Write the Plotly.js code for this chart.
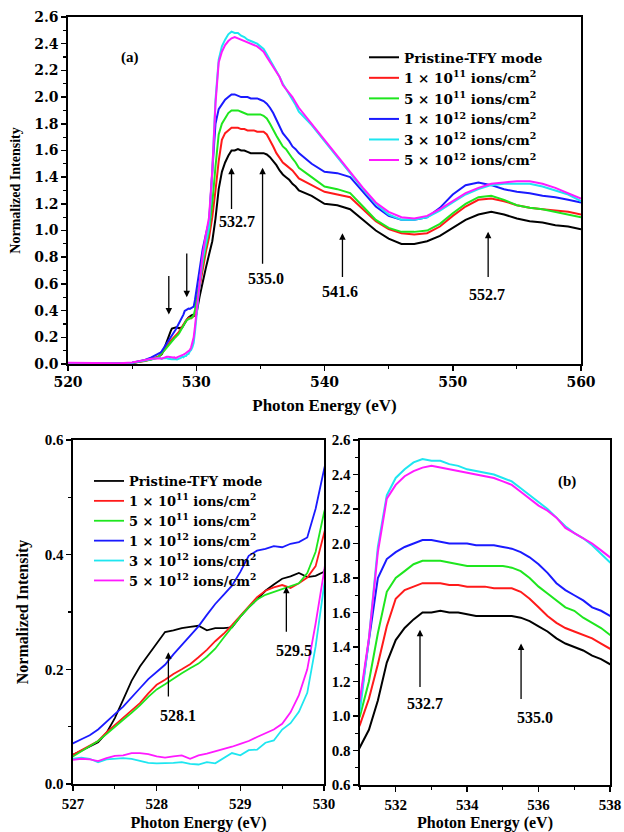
<!DOCTYPE html>
<html><head><meta charset="utf-8">
<script src="https://cdn.plot.ly/plotly-3.0.1.min.js"></script>
<style>html,body{margin:0;padding:0;background:#fff}#chart{width:624px;height:832px}</style>
</head><body><div id="chart"></div>
<script>
// Photon energy grid (eV)
const energy = [520,521,522,523,524,525,526,526.5,
  527,527.1,527.2,527.3,527.4,527.5,527.6,527.7,527.8,527.9,
  528,528.1,528.2,528.3,528.4,528.5,528.6,528.7,528.8,528.9,
  529,529.1,529.2,529.3,529.4,529.5,529.6,529.7,529.8,529.9,530,
  530.25,530.5,530.75,
  531,531.25,531.5,531.75,532,532.25,532.5,532.75,533,533.25,533.5,533.75,
  534,534.25,534.5,534.75,535,535.25,535.5,535.75,536,536.25,536.5,536.75,
  537,537.25,537.5,537.75,538,
  539,540,541,542,543,544,545,546,547,548,549,550,551,552,553,554,555,556,557,558,559,560];

const seriesNames = ['Pristine-TFY mode',
  '1 \u00d7 10<sup>11</sup> ions/cm<sup>2</sup>',
  '5 \u00d7 10<sup>11</sup> ions/cm<sup>2</sup>',
  '1 \u00d7 10<sup>12</sup> ions/cm<sup>2</sup>',
  '3 \u00d7 10<sup>12</sup> ions/cm<sup>2</sup>',
  '5 \u00d7 10<sup>12</sup> ions/cm<sup>2</sup>'];
const seriesColors = ['#000000','#ff1a1a','#1ee61e','#1a1aff','#1ee6f0','#ff1aff'];

const pristine = [0.005,0.004,0.003,0.003,0.004,0.008,0.025,0.038,
  0.051,0.058,0.065,0.073,0.089,0.115,0.147,0.180,0.205,0.225,0.245,0.265,0.268,0.272,0.274,0.276,0.268,0.272,0.272,0.273,0.292,0.308,0.322,0.337,0.348,0.358,0.362,0.368,0.361,0.363,0.370,
  0.50,0.62,0.72,
  0.82,0.92,1.09,1.31,1.44,1.51,1.56,1.60,1.60,1.61,1.60,1.60,1.59,1.58,1.58,1.58,1.58,1.58,1.57,1.55,1.52,1.49,1.45,1.42,1.40,1.38,1.35,1.33,1.30,
  1.26,1.20,1.19,1.16,1.08,1.00,0.94,0.90,0.90,0.92,0.96,1.02,1.08,1.12,1.14,1.12,1.09,1.07,1.06,1.04,1.03,1.01];
const dose1e11 = [0.005,0.004,0.003,0.003,0.004,0.008,0.022,0.035,
  0.051,0.059,0.067,0.075,0.090,0.103,0.115,0.128,0.141,0.158,0.173,0.182,0.192,0.200,0.209,0.221,0.234,0.249,0.262,0.277,0.293,0.310,0.326,0.337,0.343,0.347,0.342,0.350,0.360,0.380,0.438,
  0.58,0.72,0.84,
  0.95,1.10,1.30,1.52,1.68,1.73,1.75,1.77,1.77,1.77,1.76,1.76,1.75,1.75,1.75,1.74,1.74,1.74,1.72,1.68,1.63,1.58,1.54,1.51,1.49,1.47,1.45,1.42,1.39,
  1.34,1.29,1.27,1.25,1.16,1.07,1.01,0.98,0.97,0.98,1.03,1.11,1.18,1.23,1.24,1.22,1.19,1.17,1.16,1.15,1.14,1.12];
const dose5e11 = [0.005,0.004,0.003,0.003,0.004,0.008,0.022,0.034,
  0.048,0.057,0.066,0.075,0.087,0.100,0.112,0.124,0.137,0.152,0.165,0.174,0.184,0.193,0.202,0.210,0.222,0.236,0.255,0.274,0.292,0.308,0.322,0.330,0.335,0.340,0.344,0.350,0.368,0.405,0.473,
  0.62,0.76,0.88,
  1.00,1.20,1.48,1.72,1.80,1.84,1.88,1.90,1.90,1.90,1.89,1.88,1.87,1.87,1.87,1.87,1.87,1.86,1.84,1.80,1.75,1.71,1.67,1.63,1.61,1.57,1.54,1.51,1.47,
  1.40,1.33,1.31,1.28,1.18,1.08,1.02,0.99,0.99,1.00,1.05,1.13,1.20,1.25,1.26,1.23,1.19,1.17,1.16,1.14,1.12,1.10];
const dose1e12 = [0.005,0.004,0.003,0.003,0.004,0.010,0.030,0.050,
  0.071,0.078,0.085,0.095,0.109,0.122,0.135,0.152,0.167,0.183,0.196,0.208,0.226,0.243,0.258,0.275,0.295,0.314,0.330,0.346,0.370,0.398,0.407,0.410,0.415,0.413,0.419,0.422,0.430,0.480,0.548,
  0.72,0.86,0.97,
  1.07,1.44,1.80,1.91,1.95,1.98,2.00,2.02,2.02,2.01,2.00,2.00,2.00,1.99,1.99,1.99,1.98,1.97,1.95,1.92,1.88,1.83,1.77,1.73,1.70,1.67,1.63,1.61,1.58,
  1.50,1.44,1.43,1.40,1.29,1.18,1.11,1.08,1.08,1.10,1.17,1.27,1.34,1.36,1.34,1.31,1.29,1.28,1.26,1.25,1.23,1.21];
const dose3e12 = [0.005,0.004,0.003,0.003,0.004,0.010,0.028,0.040,
  0.044,0.046,0.044,0.038,0.043,0.044,0.045,0.044,0.040,0.037,0.036,0.036,0.037,0.038,0.035,0.034,0.038,0.036,0.045,0.054,0.050,0.059,0.060,0.072,0.076,0.095,0.106,0.126,0.159,0.240,0.345,
  0.58,0.78,0.92,
  1.03,1.45,1.98,2.28,2.38,2.43,2.47,2.49,2.48,2.48,2.46,2.45,2.43,2.42,2.41,2.40,2.38,2.36,2.32,2.28,2.24,2.20,2.15,2.10,2.06,2.03,1.99,1.94,1.89,
  1.79,1.67,1.55,1.43,1.31,1.20,1.12,1.08,1.08,1.10,1.15,1.21,1.27,1.31,1.34,1.35,1.35,1.35,1.33,1.30,1.27,1.22];
const dose5e12 = [0.010,0.008,0.006,0.005,0.005,0.012,0.030,0.040,
  0.042,0.044,0.043,0.040,0.045,0.049,0.050,0.054,0.054,0.052,0.048,0.046,0.048,0.050,0.044,0.050,0.053,0.057,0.060,0.065,0.070,0.075,0.082,0.088,0.095,0.105,0.125,0.155,0.200,0.280,0.370,
  0.62,0.82,0.97,
  1.10,1.45,1.95,2.26,2.34,2.39,2.42,2.44,2.45,2.44,2.43,2.42,2.41,2.40,2.39,2.38,2.36,2.34,2.30,2.26,2.22,2.19,2.15,2.09,2.06,2.03,2.00,1.96,1.92,
  1.80,1.68,1.56,1.44,1.32,1.21,1.14,1.10,1.09,1.11,1.16,1.22,1.28,1.32,1.35,1.36,1.37,1.37,1.35,1.32,1.28,1.24];

const allSeries = [pristine, dose1e11, dose5e11, dose1e12, dose3e12, dose5e12];

const W = 624, H = 832;
const px = v => v / W, py = v => 1 - v / H;

const traces = [];
allSeries.forEach((vals, i) => {
  traces.push({x: energy, y: vals, type: 'scatter', mode: 'lines', name: seriesNames[i],
    line: {color: seriesColors[i], width: 2}, xaxis: 'x', yaxis: 'y', legend: 'legend'});
  traces.push({x: energy, y: vals, type: 'scatter', mode: 'lines', name: seriesNames[i],
    line: {color: seriesColors[i], width: 1.8}, xaxis: 'x2', yaxis: 'y2', legend: 'legend2'});
  traces.push({x: energy, y: vals, type: 'scatter', mode: 'lines', name: seriesNames[i],
    line: {color: seriesColors[i], width: 2}, xaxis: 'x3', yaxis: 'y3', showlegend: false});
});

const serif = "'Liberation Serif', 'Times New Roman', serif";
const wide = "'DejaVu Serif', serif";
const tickWide = {family: wide, size: 14, color: '#000', weight: 'bold'};
const tickSerif = {family: serif, size: 15, color: '#000', weight: 'bold'};
const titleFontTop = {family: serif, size: 17, color: '#000', weight: 'bold'};
const titleFontBot = {family: serif, size: 16, color: '#000', weight: 'bold'};

function axis(extra) {
  return Object.assign({
    showline: true, linecolor: '#000', linewidth: 1.6, mirror: true,
    ticks: 'outside', ticklen: 5, tickwidth: 1.5, tickcolor: '#000',
    showgrid: false, zeroline: false, automargin: false, fixedrange: true
  }, extra);
}

const minorTick = d => ({dtick: d, ticks: 'outside', ticklen: 3, tickwidth: 1.2, tickcolor: '#000', showgrid: false});

const layout = {
  width: W, height: H, margin: {l: 0, r: 0, t: 0, b: 0},
  paper_bgcolor: '#fff', plot_bgcolor: '#fff', showlegend: true,
  xaxis: axis({domain: [px(68), px(581)], range: [520, 560], dtick: 10, tick0: 520,
    minor: minorTick(5), tickfont: tickWide, anchor: 'y',
    title: {text: 'Photon Energy (eV)', font: titleFontTop, standoff: 9}}),
  yaxis: axis({domain: [py(364), py(17)], range: [0, 2.6], dtick: 0.2, tickformat: '.1f',
    minor: minorTick(0.1), tickfont: tickWide, anchor: 'x',
    title: {text: 'Normalized Intensity', font: {family: serif, size: 14, color: '#000', weight: 'bold'}, standoff: 10}}),
  xaxis2: axis({domain: [px(73), px(324)], range: [527, 530], dtick: 1, tick0: 527,
    minor: minorTick(0.5), tickfont: tickSerif, anchor: 'y2',
    title: {text: 'Photon Energy (eV)', font: titleFontBot, standoff: 10}}),
  yaxis2: axis({domain: [py(784), py(440)], range: [0, 0.6], dtick: 0.2, tickformat: '.1f',
    minor: minorTick(0.1), tickfont: tickSerif, anchor: 'x2',
    title: {text: 'Normalized Intensity', font: titleFontBot, standoff: 12}}),
  xaxis3: axis({domain: [px(360), px(610)], range: [531, 538], dtick: 2, tick0: 532,
    minor: Object.assign(minorTick(1), {tick0: 531}), tickfont: tickSerif, anchor: 'y3',
    title: {text: 'Photon Energy (eV)', font: titleFontBot, standoff: 10}}),
  yaxis3: axis({domain: [py(785), py(440)], range: [0.6, 2.6], dtick: 0.2, tickformat: '.1f',
    minor: minorTick(0.1), tickfont: tickSerif, anchor: 'x3'}),
  legend: {x: px(364), y: py(42), xanchor: 'left', yanchor: 'top', bgcolor: 'rgba(0,0,0,0)',
    font: {family: wide, size: 13.5, color: '#000', weight: 'bold'}, tracegroupgap: 0, borderwidth: 0},
  legend2: {x: px(89), y: py(466), xanchor: 'left', yanchor: 'top', bgcolor: 'rgba(0,0,0,0)',
    font: {family: wide, size: 13, color: '#000', weight: 'bold'}, tracegroupgap: 0, borderwidth: 0},
  annotations: []
};

const ann = layout.annotations;
function arrow(xr, yr, x, yTip, yTail) {
  ann.push({xref: xr, yref: yr, axref: xr, ayref: yr, x: x, y: yTip, ax: x, ay: yTail,
    showarrow: true, arrowhead: 2, arrowsize: 1, arrowwidth: 1.3, arrowcolor: '#000', text: ''});
}
function label(xr, yr, x, y, text, size, fam) {
  ann.push({xref: xr, yref: yr, x: x, y: y, text: text, showarrow: false,
    font: {family: fam || serif, size: size, color: '#000', weight: 'bold'}});
}
// Panel (a)
arrow('x', 'y', 532.75, 1.47, 1.15);
arrow('x', 'y', 535.17, 1.47, 0.74);
arrow('x', 'y', 541.4, 0.98, 0.64);
arrow('x', 'y', 552.76, 0.99, 0.64);
arrow('x', 'y', 527.86, 0.37, 0.67);
arrow('x', 'y', 529.26, 0.50, 0.84);
label('x', 'y', 533.15, 1.07, '532.7', 16);
label('x', 'y', 535.4, 0.64, '535.0', 16);
label('x', 'y', 541.17, 0.54, '541.6', 16);
label('x', 'y', 552.7, 0.52, '552.7', 16);
label('x', 'y', 524.8, 2.30, '(a)', 15);
// Bottom-left
arrow('x2', 'y2', 528.14, 0.230, 0.150);
arrow('x2', 'y2', 529.55, 0.344, 0.263);
label('x2', 'y2', 528.26, 0.119, '528.1', 16);
label('x2', 'y2', 529.64, 0.232, '529.5', 16);
// Bottom-right (b)
arrow('x3', 'y3', 532.68, 1.50, 1.16);
arrow('x3', 'y3', 535.51, 1.42, 1.09);
label('x3', 'y3', 532.82, 1.075, '532.7', 16);
label('x3', 'y3', 535.9, 0.99, '535.0', 16);
label('x3', 'y3', 536.8, 2.36, '(b)', 15);

Plotly.newPlot('chart', traces, layout, {staticPlot: true, displayModeBar: false});
</script></body></html>
